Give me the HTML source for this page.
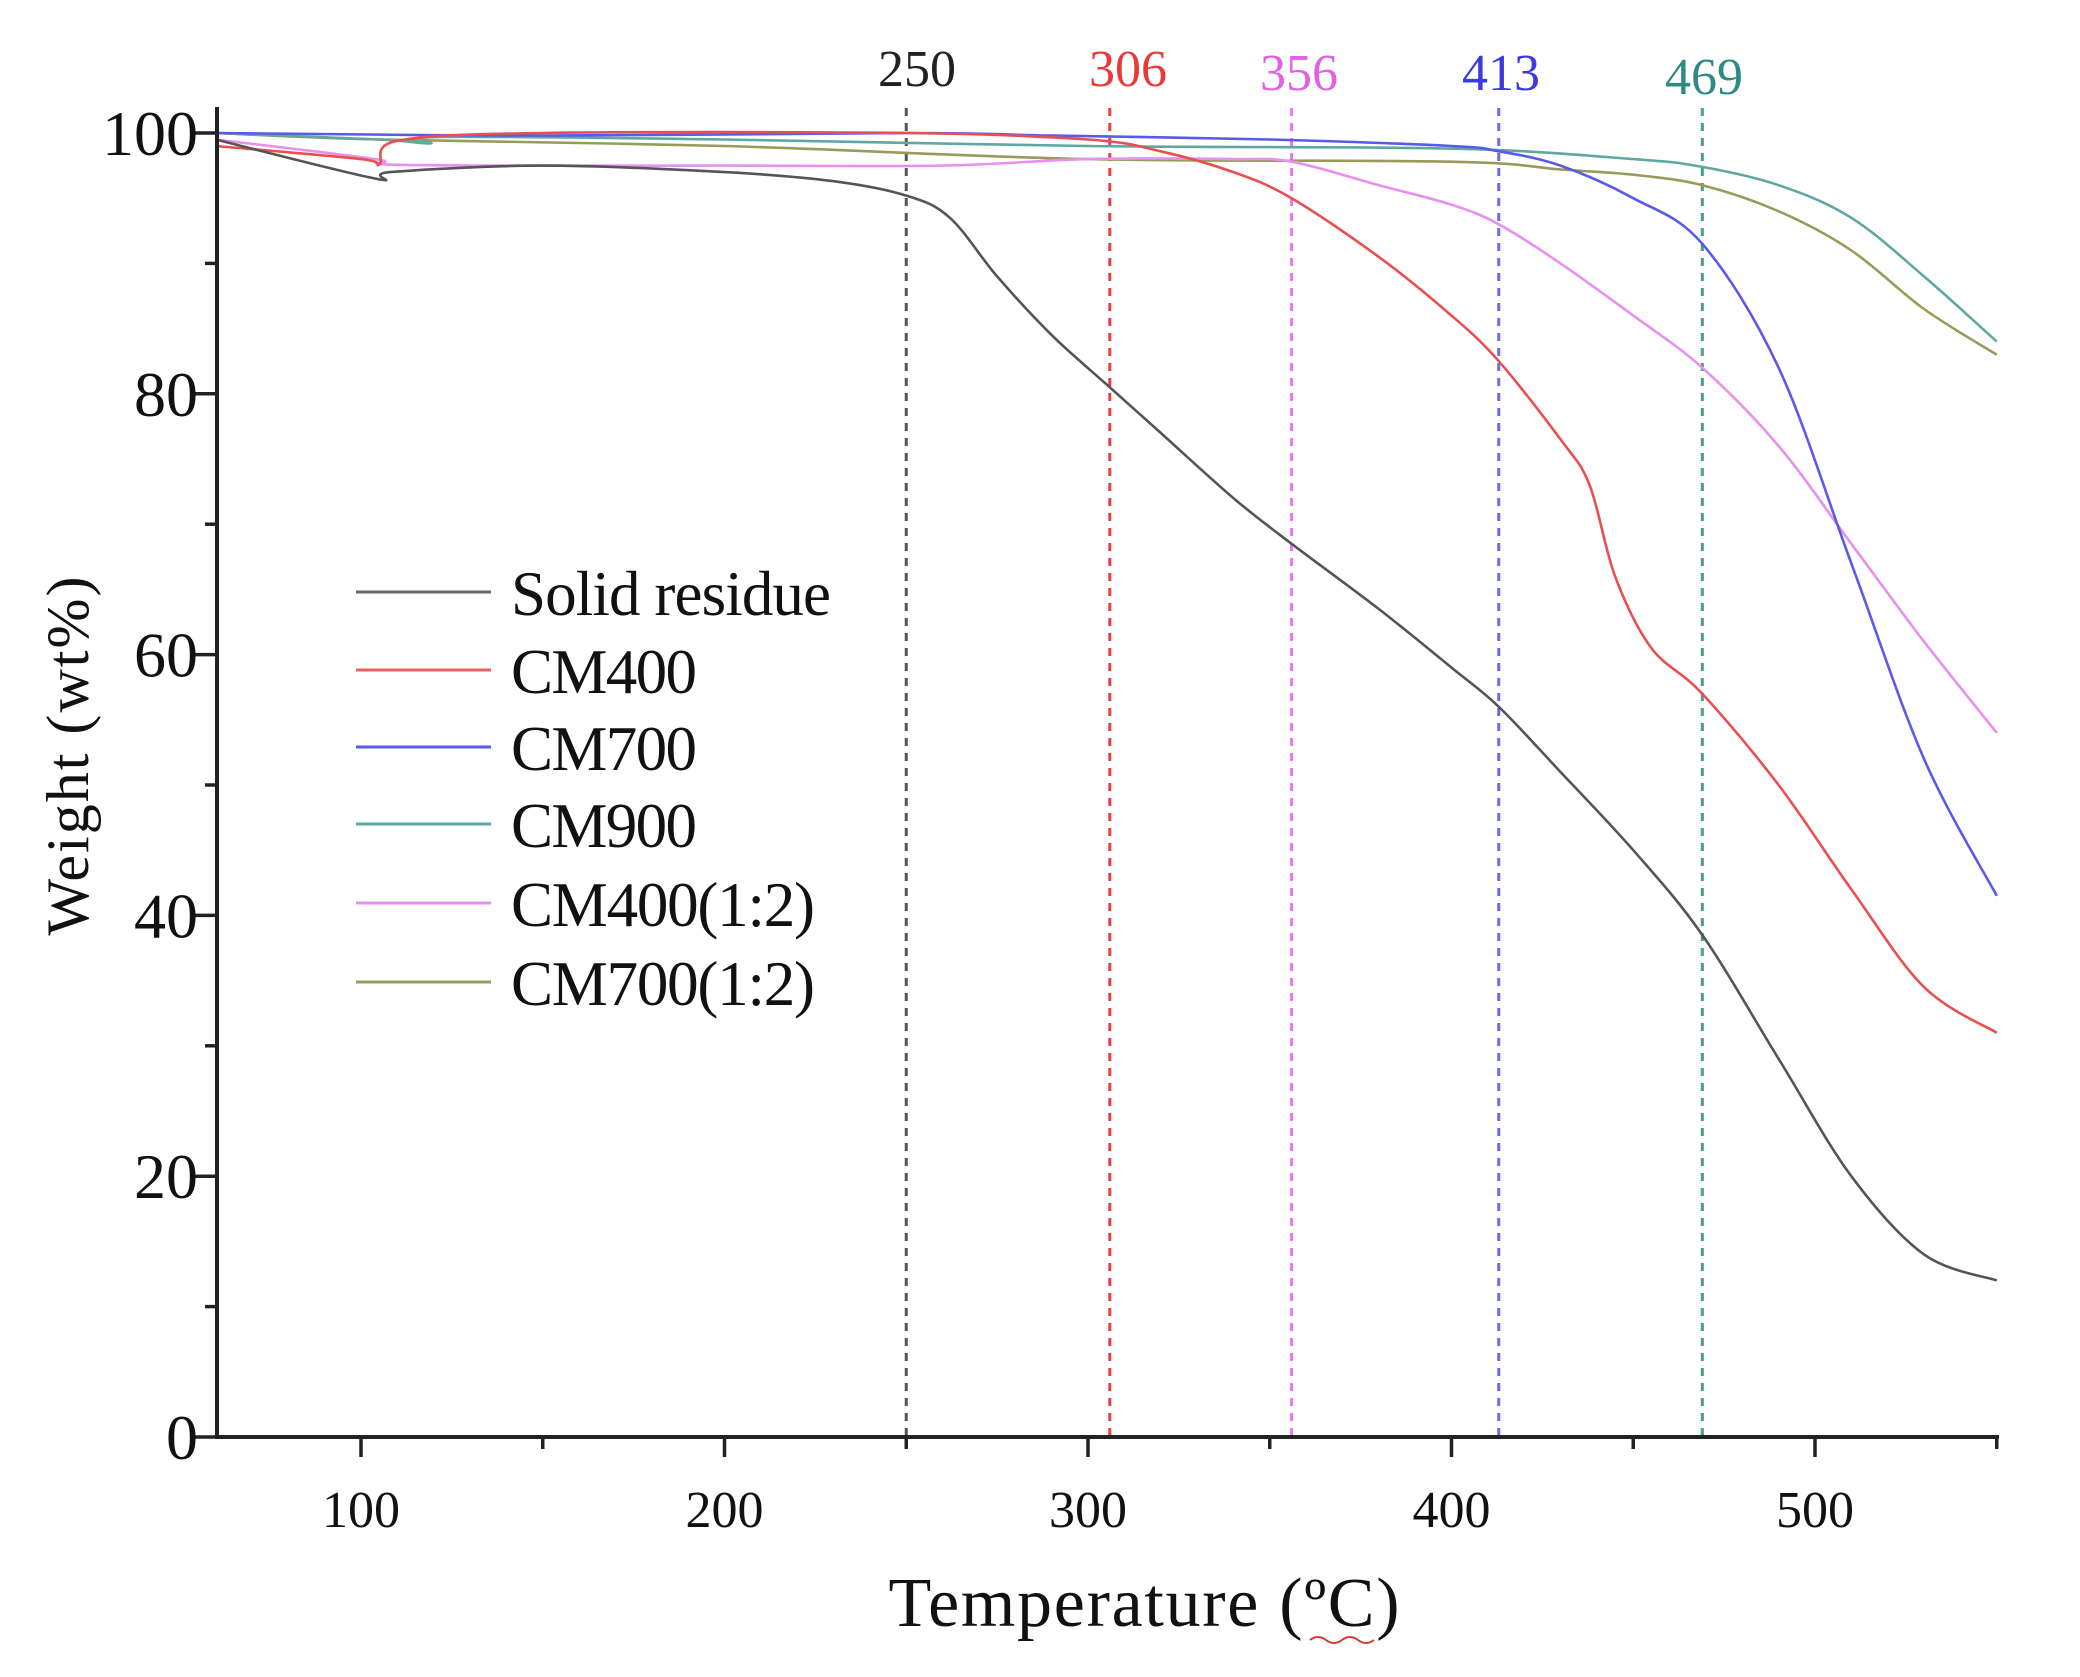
<!DOCTYPE html>
<html><head><meta charset="utf-8"><style>
html,body{margin:0;padding:0;background:#fff;}
svg{display:block;}
text{font-family:"Liberation Serif",serif;}
</style></head><body>
<svg id="s" width="2080" height="1677" viewBox="0 0 2080 1677" xmlns="http://www.w3.org/2000/svg">
<rect width="2080" height="1677" fill="#fff"/>
<g id="grid"></g>
<g id="curves" fill="none" stroke-width="2.6"></g>
<g stroke="#222" stroke-width="4" fill="none">
<line x1="217" y1="107" x2="217" y2="1439"/>
<line x1="215" y1="1437" x2="1999" y2="1437"/>
</g>
<g id="ticks" stroke="#222" stroke-width="3.5"></g>
<g id="labels" fill="#111"></g>
<g font-size="52">
<text x="917" y="86" text-anchor="middle" fill="#222">250</text>
<text x="1128" y="86" text-anchor="middle" fill="#e83a3a">306</text>
<text x="1299" y="90" text-anchor="middle" fill="#e060e8">356</text>
<text x="1501" y="90" text-anchor="middle" fill="#3a3ae0">413</text>
<text x="1704" y="94" text-anchor="middle" fill="#2f8a84">469</text>
</g>
<g stroke-width="3">
<line x1="356" y1="592" x2="491" y2="592" stroke="#666"/>
<line x1="356" y1="670" x2="491" y2="670" stroke="#e86060"/>
<line x1="356" y1="747" x2="491" y2="747" stroke="#5a5ae8"/>
<line x1="356" y1="824" x2="491" y2="824" stroke="#5fa8a0"/>
<line x1="356" y1="903" x2="491" y2="903" stroke="#e890f0"/>
<line x1="356" y1="982" x2="491" y2="982" stroke="#9a9a60"/>
</g>
<g font-size="63" fill="#111">
<text x="511" y="615" textLength="320">Solid residue</text>
<text x="511" y="693" textLength="186">CM400</text>
<text x="511" y="770" textLength="186">CM700</text>
<text x="511" y="847" textLength="186">CM900</text>
<text x="511" y="926" textLength="304">CM400(1:2)</text>
<text x="511" y="1005" textLength="304">CM700(1:2)</text>
</g>
<text transform="translate(88,756) rotate(-90)" text-anchor="middle" font-size="60" fill="#111" textLength="359">Weight (wt%)</text>
<text x="1144" y="1626" text-anchor="middle" font-size="70" fill="#111" textLength="511">Temperature (ºC)</text>
<path d="M1310 1640 q8 -6 16 0 q8 6 16 0 q8 -6 16 0 q8 6 16 0" stroke="#d33" stroke-width="2" fill="none"/>
</svg>
<script>
const NS="http://www.w3.org/2000/svg";
const X=t=>361+(t-100)*3.635, Y=w=>1437-w*13.04;
function el(tag,attrs,parent,txt){const e=document.createElementNS(NS,tag);for(const k in attrs)e.setAttribute(k,attrs[k]);if(txt!==undefined)e.textContent=txt;document.getElementById(parent).appendChild(e);return e;}
for(let t=100;t<=500;t+=100){el('line',{x1:X(t),y1:1437,x2:X(t),y2:1457},'ticks');el('text',{x:X(t),y:1527,'text-anchor':'middle','font-size':52},'labels',String(t));}
for(let t=150;t<=550;t+=100){el('line',{x1:X(t),y1:1437,x2:X(t),y2:1449},'ticks');}
for(let w=0;w<=100;w+=20){el('line',{x1:193,y1:Y(w),x2:217,y2:Y(w)},'ticks');el('text',{x:198,y:Y(w)+22,'text-anchor':'end','font-size':64},'labels',String(w));}
for(let w=10;w<=90;w+=20){el('line',{x1:205,y1:Y(w),x2:217,y2:Y(w)},'ticks');}
[[250,'#555'],[306,'#e84040'],[356,'#e878f0'],[413,'#6a6af0'],[469,'#4a9a90']].forEach(([t,c])=>{el('line',{x1:X(t),y1:108,x2:X(t),y2:1437,stroke:c,'stroke-width':3,'stroke-dasharray':'8 7'},'grid');});
function path(pts){const p=pts.map(([t,w])=>[X(t),Y(w)]);let d='M'+p[0][0].toFixed(1)+' '+p[0][1].toFixed(1);
for(let i=0;i<p.length-1;i++){const p0=p[i-1]||p[i],p1=p[i],p2=p[i+1],p3=p[i+2]||p2;
const c1=[p1[0]+(p2[0]-p0[0])/6,p1[1]+(p2[1]-p0[1])/6],c2=[p2[0]-(p3[0]-p1[0])/6,p2[1]-(p3[1]-p1[1])/6];
d+=` C${c1[0].toFixed(1)} ${c1[1].toFixed(1)} ${c2[0].toFixed(1)} ${c2[1].toFixed(1)} ${p2[0].toFixed(1)} ${p2[1].toFixed(1)}`;}return d;}
const S=[
['#9a9a5a',[[60,100],[105,99.5],[200,99],[300,98],[400,97.8],[430,97.2],[450,96.8],[469,96],[490,94],[510,91],[530,86.5],[550,83]]],
['#e890f0',[[60,99.5],[104,98],[106,97.6],[140,97.5],[200,97.5],[260,97.5],[300,98],[340,98],[356,97.8],[380,96],[400,94.5],[413,93],[430,90],[450,86],[469,82],[490,76],[510,68.5],[530,61],[550,54]]],
['#5fa8a0',[[60,100],[105,99.5],[119,99.2],[122,99.7],[200,99.5],[300,99],[400,98.8],[450,98],[469,97.4],[490,96],[510,93.5],[530,89],[550,84]]],
['#5a5ae8',[[60,100],[150,99.8],[250,100],[290,99.8],[350,99.5],[400,99],[413,98.6],[430,97.5],[450,95],[469,91.5],[490,82],[510,67],[530,52],[550,41.5]]],
['#e85050',[[60,99],[100,98],[105,97.6],[110,99.4],[150,100],[250,100],[300,99.5],[320,98.6],[340,97],[356,95],[380,90.5],[400,86],[413,82.5],[430,76.5],[438,73],[445,66],[455,60.5],[469,57],[490,50],[510,42],[530,34.5],[550,31]]],
['#555',[[60,99.5],[104,96.5],[108,97],[150,97.5],[200,97],[230,96.3],[250,95.2],[262,93.5],[275,89],[290,84.5],[306,80.5],[320,77],[340,72],[356,68.5],[380,63.5],[400,59],[413,56],[430,51],[450,45],[469,38.5],[490,29],[510,20],[530,14],[550,12]]]
];
S.forEach(([c,pts])=>el('path',{d:path(pts),stroke:c},'curves'));
</script>
</body></html>
